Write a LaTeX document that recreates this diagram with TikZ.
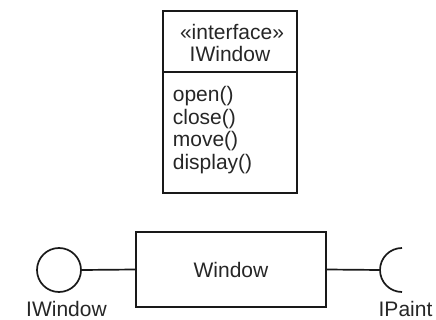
\documentclass[tikz,border=0pt]{standalone}
\usepackage{fontspec}
\setmainfont{Liberation Sans}
\begin{document}
\begin{tikzpicture}[x=1pt,y=-1pt,line width=1.7pt,
  txt/.style={inner sep=0pt,anchor=base,font=\fontsize{21}{22}\selectfont,text=black!85},
  box/.style={draw=black!90,inner sep=0pt},
  wire/.style={draw=black!90}]
\useasboundingbox (0,0) rectangle (436,320);
% interface class box
\node[box,minimum width=134pt,minimum height=61pt] (hdr) at (230,41.5) {};
\node[box,minimum width=134pt,minimum height=121pt] (ops) at (230,132.5) {};
\node[txt] (st) at (232,40) {«interface»};
\node[txt] (nm) at (230,62) {IWindow};
\node[txt,anchor=base west] (o1) at (172,102) {open()};
\node[txt,anchor=base west] (o2) at (172,124.5) {close()};
\node[txt,anchor=base west] (o3) at (172,147) {move()};
\node[txt,anchor=base west] (o4) at (172,169.5) {display()};
% component with interfaces
\node[box,minimum width=190pt,minimum height=75pt,font=\fontsize{21}{22}\selectfont,text=black!85] (win) at (231,269.5) {Window};
\node[box,circle,minimum size=44pt] (lol) at (59,270) {};
\coordinate (sock) at (380,270);
\draw[wire] (lol.east) -- (win.west);
\draw[wire] (win.east) -- (sock);
\draw[wire] ([shift={(22pt,22pt)}]sock) arc[start angle=90,end angle=270,radius=22pt];
\node[txt] (lw) at (66.5,316) {IWindow};
\node[txt] (lp) at (405.5,316) {IPaint};
\end{tikzpicture}
\end{document}
